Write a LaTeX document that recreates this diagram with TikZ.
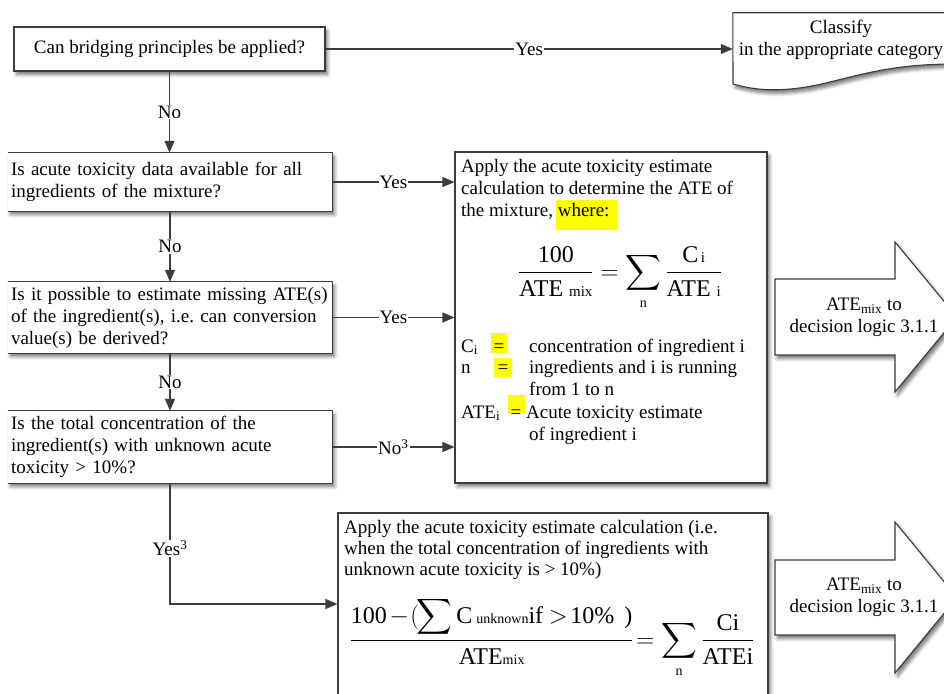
\documentclass[tikz,border=0pt]{standalone}
\usepackage{fontspec}
\usepackage{amsmath}
\setmainfont{Liberation Serif}
\frenchspacing
\usetikzlibrary{arrows.meta,shadows.blur}
\definecolor{edge}{RGB}{60,60,60}
\definecolor{marker}{RGB}{255,255,0}
\tikzset{
  boxshadow/.style={blur shadow={shadow xshift=2.5pt,shadow yshift=-3.5pt,shadow blur radius=3.5pt,shadow blur steps=6,shadow opacity=55}},
  panel/.style={fill=white,boxshadow},
  framed/.style={draw=edge,line width=1.1pt},
  frameline/.style={draw=edge,line width=1.1pt},
  conn/.style={draw=edge,line width=1.1pt,-{Triangle[length=12pt,width=10pt]}},
  lbl/.style={fill=white,inner sep=1pt,text=black},
  txt/.style={anchor=base west,inner sep=0pt},
}
\begin{document}
\begin{tikzpicture}[x=1pt,y=-1pt,font=\fontsize{19}{22}\selectfont]
\useasboundingbox (0,0) rectangle (944,693);
\clip (0,0) rectangle (944,693);

% question boxes
\node[panel,framed,minimum width=311pt,minimum height=44pt,inner sep=0pt] (q1) at (169.5,49) {Can bridging principles be applied?};
\node[panel,minimum width=324pt,minimum height=58pt,text width=318pt,inner xsep=3pt,align=left] (q2) at (170,182) {Is acute toxicity data available for all\\ingredients of the mixture?};
\node[panel,minimum width=324pt,minimum height=71pt,text width=318pt,inner xsep=3pt,align=left] (q3) at (170,317.5) {Is it possible to estimate missing ATE(s)\\of the ingredient(s), i.e. can conversion\\value(s) be derived?};
\node[panel,minimum width=324pt,minimum height=72pt,text width=318pt,inner xsep=3pt,align=left] (q4) at (170,447) {Is the total concentration of the\\ingredient(s) with unknown acute\\toxicity > 10\%?};
\foreach \q in {q2,q3,q4}
  \draw[frameline] (\q.north west) -- (\q.north east) -- (\q.south east) -- (\q.south west);

% classify (document shape)
\node[minimum width=222pt,minimum height=72pt,inner sep=0pt] (cls) at (844,49) {};
\draw[framed,fill=white,boxshadow] (cls.north west) -- (cls.north east) -- (955,64)
  .. controls (900,64) and (870,72) .. (830,82)
  .. controls (790,92) and (760,92) .. (733,84) -- cycle;
\node[align=center,inner sep=0pt] (clstext) at (841,40) {Classify\\in the appropriate category};

% calculation boxes
\node[panel,framed,minimum width=312pt,minimum height=331pt] (calc) at (611,317.5) {};
\node[panel,framed,minimum width=430pt,minimum height=182pt] (calc2) at (553,604) {};

% output arrows
\draw[framed,fill=white,boxshadow] (775,279) -- (895,279) -- (895,242) -- (957,317) -- (895,392) -- (895,355) -- (775,355) -- cycle;
\node[align=center,inner sep=0pt] (out1) at (864,317) {ATE\textsubscript{mix} to\\decision logic 3.1.1};
\draw[framed,fill=white,boxshadow] (775,560) -- (895,560) -- (895,522) -- (957,597.5) -- (895,673) -- (895,635) -- (775,635) -- cycle;
\node[align=center,inner sep=0pt] (out2) at (864,597.5) {ATE\textsubscript{mix} to\\decision logic 3.1.1};

% text of the first calculation box
\node[txt] (a1) at (461,172.5) {Apply the acute toxicity estimate};
\node[txt] (a2) at (461,194.5) {calculation to determine the ATE of};
\fill[marker] (556,200) rectangle (617,230);
\node[txt] (a3) at (461,216.5) {the mixture, where:};
\node[anchor=base,inner sep=0pt] (f1) at (620,279) {\fontsize{24}{28}\selectfont
  $\displaystyle\frac{\text{100}}{\text{ATE {\fontsize{15}{18}\selectfont mix}}}
  = \sum\limits_{\text{\fontsize{14}{16}\selectfont n}}
  \frac{\text{C{\fontsize{15}{18}\selectfont\,i}}}{\text{ATE {\fontsize{15}{18}\selectfont i}}}$};
\fill[marker] (491,333) rectangle (507,353);
\fill[marker] (494,358) rectangle (512,377);
\fill[marker] (508,395) rectangle (525,413);
\node[txt] (d1) at (461,352) {C\textsubscript{i}};
\node[anchor=base,inner sep=0pt] (e1) at (499,352) {=};
\node[txt] (d1t) at (529,352) {concentration of ingredient i};
\node[txt] (d2) at (461,373) {n};
\node[anchor=base,inner sep=0pt] (e2) at (503,373) {=};
\node[txt] (d2t) at (529,373) {ingredients and i is running};
\node[txt] (d2u) at (529,395) {from 1 to n};
\node[txt] (d3) at (461,418) {ATE\textsubscript{i}};
\node[anchor=base,inner sep=0pt] (e3) at (516,418) {=};
\node[txt] (d3t) at (526,418) {Acute toxicity estimate};
\node[txt] (d3u) at (529,440) {of ingredient i};

% text of the second calculation box
\node[txt] (b1) at (344,533) {Apply the acute toxicity estimate calculation (i.e.};
\node[txt] (b2) at (344,554) {when the total concentration of ingredients with};
\node[txt] (b3) at (344,575) {unknown acute toxicity is > 10\%)};
\node[anchor=base,inner sep=0pt] (f2) at (552,647) {\fontsize{24}{29}\selectfont
  $\displaystyle\frac{\smash[t]{\text{100}\mkern2mu{-}\mkern1mu(\mkern-2mu\displaystyle\sum\text{C\,{\fontsize{14}{16}\selectfont unknown}if}\mkern4mu{>}\mkern2mu\text{10\% \,)}}}{\text{ATE{\fontsize{14}{16}\selectfont mix}}}
  \mkern2mu{=}\mkern2mu \sum\limits_{\text{\fontsize{14}{16}\selectfont n}}\frac{\text{Ci}}{\text{ATEi}}$};

% connectors
\draw[conn] (q1.east) -- node[lbl] {Yes} (q1.east -| cls.west);
\draw[conn] (q1.south) -- node[lbl] {No} (q2.north -| q1.south);
\draw[conn] (q2.south) -- node[lbl] {No} (q3.north);
\draw[conn] (q3.south) -- node[lbl] {No} (q4.north);
\draw[conn] (q2.east) -- node[lbl] {Yes} (q2.east -| calc.west);
\draw[conn] (q3.east) -- node[lbl] {Yes} (q3.east -| calc.west);
\draw[conn] (q4.east) -- node[lbl] {No\textsuperscript{3}} (q4.east -| calc.west);
\draw[conn] (q4.south) |- node[lbl,pos=0.27] {Yes\textsuperscript{3}} (calc2.west);
\end{tikzpicture}
\end{document}
